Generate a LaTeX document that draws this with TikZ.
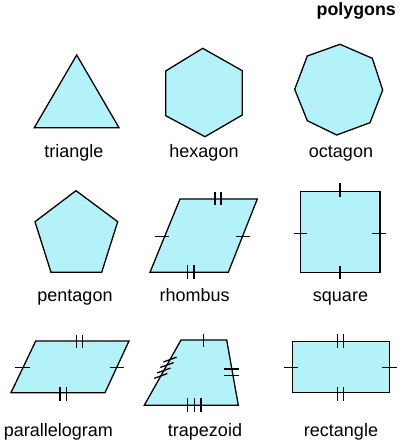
\documentclass[tikz,border=0pt]{standalone}
\usepackage{fontspec}
\setmainfont{Liberation Sans}
\usetikzlibrary{calc}
\definecolor{polyfill}{RGB}{180,242,250}
\tikzset{
  polyshape/.style={fill=polyfill, draw=black, line width=1.3pt, line join=miter},
  tickmark/.style={line width=1.3pt},
  lbl/.style={font=\fontsize{18}{20}\selectfont, anchor=base, inner sep=0pt}
}
\begin{document}
\begin{tikzpicture}[x=1pt, y=-1pt]
  \useasboundingbox (0,0) rectangle (400,445);
  \node[font=\bfseries\fontsize{17.8}{20}\selectfont, anchor=base east, inner sep=0pt] (title) at (396,15.5) {polygons};
  % row 1
  \draw[polyshape] (76.7,55) -- (119,127.7) -- (34.3,127.7) -- cycle;
  \draw[polyshape] (202.7,48.3) -- (242.3,70.7) -- (242.3,115) -- (205,136.7)
    -- (165.7,115.7) -- (165.7,71) -- cycle;
  \draw[polyshape] (340,44.3) -- (372.3,58.3) -- (382.7,90) -- (370,122.7)
    -- (336.7,135) -- (307.3,120.7) -- (294.7,89.3) -- (307.3,56) -- cycle;
  \node[lbl] (ltriangle) at (74,157.7) {triangle};
  \node[lbl] (lhexagon) at (204,157.7) {hexagon};
  \node[lbl] (loctagon) at (341,157.7) {octagon};
  % row 2
  \draw[polyshape] (76,190.7) -- (117.7,221.7) -- (101.7,272.3) -- (51,272.3)
    -- (35,221.7) -- cycle;
  \draw[polyshape] (180,199) -- (257.3,199) -- (228.3,272.3) -- (150,272.3) -- cycle;
  \draw[tickmark] (215,192) -- (215,205) (221,192) -- (221,205);
  \draw[tickmark] (187.7,265) -- (187.7,279) (194,265) -- (194,279);
  \draw[tickmark] (155,236.7) -- (169.3,236.7);
  \draw[tickmark] (236,236.7) -- (250,236.7);
  \draw[polyshape] (300.7,191.7) rectangle (380,272.7);
  \draw[tickmark] (340,183.3) -- (340,196.7);
  \draw[tickmark] (340,266) -- (340,279.3);
  \draw[tickmark] (294,233.5) -- (307.3,233.5);
  \draw[tickmark] (371.7,233.5) -- (385.7,233.5);
  \node[lbl] (lpentagon) at (75,301.7) {pentagon};
  \node[lbl] (lrhombus) at (194.7,301.7) {rhombus};
  \node[lbl] (lsquare) at (340.5,301.7) {square};
  % row 3
  \draw[polyshape] (35.7,341) -- (129,341) -- (105,392.7) -- (11,392.7) -- cycle;
  \draw[tickmark] (76.7,335) -- (76.7,348) (82.7,335) -- (82.7,348);
  \draw[tickmark] (60,386.7) -- (60,400.7) (66.7,386.7) -- (66.7,400.7);
  \draw[tickmark] (15,367.7) -- (30,367.7);
  \draw[tickmark] (110,367.7) -- (124,367.7);
  \coordinate (TTL) at (181,340); \coordinate (TTR) at (226.7,340);
  \coordinate (TBR) at (238.3,405.3); \coordinate (TBL) at (144.3,405.3);
  \draw[polyshape] (TTL) -- (TTR) -- (TBR) -- (TBL) -- cycle;
  \draw[tickmark] (203.3,334) -- (203.3,347);
  \draw[tickmark] (224,369) -- (239.3,369) (224,375.7) -- (239.3,375.7);
  \draw[tickmark] (187.7,398) -- (187.7,412) (194.3,398) -- (194.3,412)
    (201,398) -- (201,412);
  \foreach \t in {0.45,0.533,0.617,0.70}
    \draw[tickmark] ($(TBL)!\t!(TTL)+(-6.6,2.4)$) -- ($(TBL)!\t!(TTL)+(6.6,-2.4)$);
  \draw[polyshape] (292.3,341.7) rectangle (389.3,392.7);
  \draw[tickmark] (337.7,334.3) -- (337.7,347.7) (343.3,334.3) -- (343.3,347.7);
  \draw[tickmark] (337.7,386.7) -- (337.7,400.7) (343.3,386.7) -- (343.3,400.7);
  \draw[tickmark] (284,367.3) -- (298.3,367.3);
  \draw[tickmark] (382.3,367.3) -- (396.7,367.3);
  \node[lbl] (lparallelogram) at (58.3,436) {parallelogram};
  \node[lbl] (ltrapezoid) at (205,436) {trapezoid};
  \node[lbl] (lrectangle) at (341,436) {rectangle};
\end{tikzpicture}
\end{document}
